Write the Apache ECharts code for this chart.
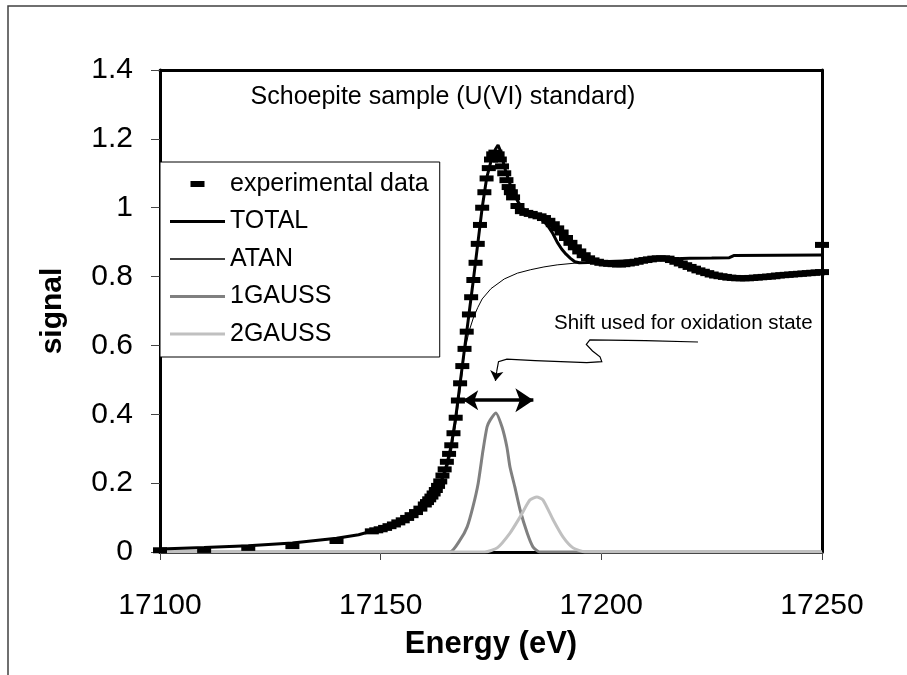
<!DOCTYPE html>
<html>
<head>
<meta charset="utf-8">
<title>Schoepite sample (U(VI) standard)</title>
<script src="https://cdn.jsdelivr.net/npm/echarts@6/dist/echarts.min.js"></script>
<style>
  html,body{margin:0;padding:0;background:#fff;}
  #main{width:907px;height:675px;}
</style>
</head>
<body>
<div id="main"></div>
<script>
  // 实验数据 (energy in eV, signal)
  var expEnergy=[17100,17110,17120,17130,17140,
    17148,17149,17150,17151,17152,17153,17154,17155,17156,17157,17158,17159,17160,
    17160.5,17161,17161.5,17162,17162.5,17163,17163.5,17164,17164.5,17165,17165.5,17166,17166.5,
    17167,17167.5,17168,17168.5,17169,17169.5,17170,17170.5,17171,17171.5,17172,17172.5,17173,17173.5,
    17174,17174.5,17175,17175.5,17176,17176.5,17177,17177.5,17178,17178.5,17179,17179.5,17180,
    17181,17182,17183,17184,17185,17186,17187,17188,17189,17190,17191,17192,17193,17194,17195,
    17196,17197,17198,17199,17200,17201,17202,17203,17204,17205,17206,17207,17208,17209,17210,
    17211,17212,17213,17214,17215,17216,17217,17218,17219,17220,17221,17222,17223,17224,17225,
    17226,17227,17228,17229,17230,17231,17232,17233,17234,17235,17236,17237,17238,17239,17240,
    17241,17242,17243,17244,17245,17246,17247,17248,17249,17250,17250];
  var expSignal=[0.005,0.006,0.012,0.017,0.032,
    0.060,0.063,0.066,0.070,0.075,0.080,0.086,0.092,0.099,0.107,0.116,0.126,0.138,
    0.145,0.153,0.161,0.170,0.180,0.192,0.205,0.222,0.240,0.262,0.285,0.310,0.345,
    0.390,0.440,0.490,0.540,0.590,0.640,0.690,0.740,0.790,0.840,0.895,0.950,1.000,1.045,
    1.085,1.115,1.140,1.155,1.160,1.155,1.140,1.120,1.100,1.080,1.060,1.045,1.030,
    1.005,0.990,0.985,0.982,0.978,0.975,0.970,0.962,0.952,0.940,0.928,0.912,0.898,0.885,0.873,
    0.862,0.853,0.847,0.843,0.840,0.838,0.837,0.836,0.835,0.836,0.838,0.840,0.843,0.846,0.848,
    0.850,0.852,0.853,0.853,0.852,0.848,0.843,0.838,0.833,0.828,0.823,0.818,0.814,0.810,0.806,
    0.803,0.801,0.799,0.797,0.796,0.795,0.795,0.795,0.796,0.797,0.798,0.799,0.800,0.801,0.803,
    0.804,0.805,0.806,0.807,0.808,0.809,0.810,0.811,0.812,0.813,0.892];

  // 拟合总和
  var totalEnergy=[17100,17110,17120,17130,17140,17145,17150,17155,17158,17160,17162,17164,17165,17166,
    17167,17168,17169,17170,17171,17172,17173,17174,17175,17176,17176.6,17177.3,17178,17179,17180,
    17181,17182,17183,17184,17185,17186,17187,17188,17189,17190,17191,17192,17193,17194,17195,
    17197,17200,17205,17210,17215,17220,17225,17229,17230,17240,17250];
  var totalSignal=[0.009,0.013,0.018,0.026,0.040,0.050,0.068,0.090,0.110,0.130,0.160,0.215,0.255,0.310,
    0.390,0.490,0.590,0.690,0.790,0.895,1.000,1.085,1.135,1.170,1.182,1.160,1.120,1.080,1.045,
    1.020,1.000,0.990,0.985,0.978,0.970,0.960,0.945,0.925,0.900,0.880,0.865,0.853,0.843,0.840,
    0.841,0.843,0.845,0.848,0.851,0.853,0.854,0.855,0.861,0.862,0.863];

  // 反正切台阶
  var atanEnergy=[17100,17120,17140,17150,17155,17160,17163,17165,17166,17167,17168,17169,17170,
    17171,17172,17173,17175,17178,17181,17184,17187,17190,17194,17200,17210,17220,17229,17231,17250];
  var atanSignal=[0.008,0.017,0.038,0.064,0.088,0.128,0.178,0.238,0.290,0.370,0.470,0.580,0.640,
    0.680,0.710,0.735,0.765,0.793,0.810,0.820,0.828,0.834,0.839,0.845,0.850,0.853,0.855,0.862,0.863];

  // 高斯峰
  var gauss1Energy=[17100,17165.7,17168,17169.6,17170.9,17172.1,17173.2,17174.1,17174.8,17176.1,
    17177.5,17178.6,17179.3,17180.4,17181.6,17183.2,17184.5,17186,17250];
  var gauss1Signal=[0,0,0.035,0.073,0.131,0.2,0.296,0.363,0.383,0.404,
    0.363,0.305,0.247,0.189,0.122,0.055,0.015,0,0];
  var gauss2Energy=[17100,17173.6,17176.4,17179.3,17181.6,17183.8,17185.4,17186.8,17189.1,17191.3,
    17193.6,17196.3,17250];
  var gauss2Signal=[0,0,0.012,0.055,0.102,0.151,0.16,0.151,0.093,0.044,0.012,0,0];

  // 标注
  var shiftArrow=[[17168.7,0.441],[17184.6,0.441]];
  var calloutPath=[[17221.9,0.610],[17210,0.614],[17197.4,0.616],[17196.6,0.603],[17198,0.584],
    [17199.7,0.567],[17200.1,0.553],[17196.7,0.550],[17185,0.556],[17178.6,0.560],[17176.7,0.553],[17176.3,0.525]];
  var calloutHead=[[17176.3,0.525],[17176.0,0.497]];

  var xTicks={min:17100,max:17250,step:50};
  var yTicks={min:0,max:1.4,step:0.2};

  var fontFamily='"Liberation Sans", Arial, sans-serif';

  var zip=function(xs,ys){
    var out=[];
    xs.forEach(function(x,i){
      out.push([x,ys[i]]);
    })
    return out;
  }

  var chart=echarts.init(document.getElementById("main"));
  chart.setOption({
    animation:false,
    textStyle:{fontFamily:fontFamily},
    grid:{left:160,right:85,top:70,bottom:123,containLabel:false,outerBoundsMode:'none'},
    legend:{
      data:[
        {name:'experimental data',icon:'path://M0,0H14V6H0Z'},
        {name:'TOTAL',icon:'path://M0,0H55V3H0Z'},
        {name:'ATAN',icon:'path://M0,0H55V1.5H0Z'},
        {name:'1GAUSS',icon:'path://M0,0H55V3H0Z'},
        {name:'2GAUSS',icon:'path://M0,0H55V3H0Z'}
      ],
      orient:'vertical',
      left:160,
      top:162,
      itemWidth:55,
      itemHeight:6,
      itemGap:9.5,
      itemTextGap:6,
      padding:[8,11,9,10],
      borderColor:'#000',
      borderWidth:1,
      borderRadius:0,
      backgroundColor:'#fff',
      selectedMode:false,
      textStyle:{fontSize:25,lineHeight:28,color:'#000',fontFamily:fontFamily}
    },
    xAxis:[
      {
        type:'value',
        min:xTicks.min,
        max:xTicks.max,
        interval:xTicks.step,
        name:'Energy (eV)',
        nameLocation:'middle',
        nameGap:77,
        nameTextStyle:{fontSize:31,fontWeight:'bold',color:'#000',fontFamily:fontFamily},
        axisLine:{show:true,onZero:false,lineStyle:{color:'#000',width:3}},
        axisTick:{show:true,inside:false,length:8,lineStyle:{color:'#444',width:1}},
        axisLabel:{fontSize:30,margin:39,color:'#000',fontFamily:fontFamily,
          formatter:function(v){return String(v);}},
        splitLine:{show:false}
      },
      {
        type:'value',
        position:'top',
        min:xTicks.min,
        max:xTicks.max,
        axisLine:{show:true,onZero:false,lineStyle:{color:'#000',width:3}},
        axisTick:{show:false},
        axisLabel:{show:false},
        splitLine:{show:false}
      }
    ],
    yAxis:[
      {
        type:'value',
        min:yTicks.min,
        max:yTicks.max,
        interval:yTicks.step,
        name:'signal',
        nameLocation:'middle',
        nameGap:92,
        nameTextStyle:{fontSize:30,fontWeight:'bold',color:'#000',fontFamily:fontFamily},
        axisLine:{show:true,onZero:false,lineStyle:{color:'#000',width:3}},
        axisTick:{show:true,inside:false,length:9,lineStyle:{color:'#444',width:1}},
        axisLabel:{fontSize:30,margin:27,color:'#000',fontFamily:fontFamily,
          formatter:function(v){return String(Math.round(v*10)/10);}},
        splitLine:{show:false}
      },
      {
        type:'value',
        position:'right',
        min:yTicks.min,
        max:yTicks.max,
        axisLine:{show:true,onZero:false,lineStyle:{color:'#000',width:3}},
        axisTick:{show:false},
        axisLabel:{show:false},
        splitLine:{show:false}
      }
    ],
    graphic:[
      {
        type:'rect',
        silent:true,
        z:-10,
        shape:{x:8,y:6,width:1000,height:1000},
        style:{fill:'none',stroke:'#404040',lineWidth:1.5}
      },
      {
        type:'text',
        x:443,
        y:97,
        silent:true,
        style:{text:'Schoepite sample (U(VI) standard)',font:'25px '+fontFamily,fill:'#000',
          align:'center',verticalAlign:'middle',textAlign:'center',textVerticalAlign:'middle'}
      },
      {
        type:'text',
        x:554,
        y:323,
        silent:true,
        style:{text:'Shift used for oxidation state',font:'20.5px '+fontFamily,fill:'#000',
          align:'left',verticalAlign:'middle',textAlign:'left',textVerticalAlign:'middle'}
      }
    ],
    series:[
      {
        name:'experimental data',
        type:'scatter',
        symbol:'rect',
        symbolSize:[14,6],
        itemStyle:{color:'#000',opacity:1},
        data:zip(expEnergy,expSignal),
        z:3
      },
      {
        name:'TOTAL',
        type:'line',
        symbol:'none',
        itemStyle:{color:'#000'},
        lineStyle:{color:'#000',width:3},
        data:zip(totalEnergy,totalSignal),
        z:4
      },
      {
        name:'ATAN',
        type:'line',
        symbol:'none',
        itemStyle:{color:'#000'},
        lineStyle:{color:'#000',width:1},
        data:zip(atanEnergy,atanSignal),
        z:2
      },
      {
        name:'1GAUSS',
        type:'line',
        symbol:'none',
        smooth:0.2,
        itemStyle:{color:'#808080'},
        lineStyle:{color:'#808080',width:3},
        data:zip(gauss1Energy,gauss1Signal),
        z:2
      },
      {
        name:'2GAUSS',
        type:'line',
        symbol:'none',
        smooth:0.2,
        itemStyle:{color:'#c0c0c0'},
        lineStyle:{color:'#c0c0c0',width:3},
        data:zip(gauss2Energy,gauss2Signal),
        z:2
      },
      // 注释线
      {
        type:'lines',
        coordinateSystem:'cartesian2d',
        polyline:true,
        silent:true,
        lineStyle:{color:'#000',width:1.2,opacity:1},
        data:[{coords:calloutPath}],
        z:5
      },
      {
        type:'lines',
        coordinateSystem:'cartesian2d',
        silent:true,
        symbol:['none','arrow'],
        symbolSize:[9,10],
        lineStyle:{color:'#000',width:1.2,opacity:1},
        data:[{coords:calloutHead}],
        z:5
      },
      {
        type:'lines',
        coordinateSystem:'cartesian2d',
        silent:true,
        symbol:['arrow','arrow'],
        symbolSize:[15,18],
        lineStyle:{color:'#000',width:3.5,opacity:1},
        data:[{coords:shiftArrow}],
        z:5
      }
    ]
  });
</script>
</body>
</html>
